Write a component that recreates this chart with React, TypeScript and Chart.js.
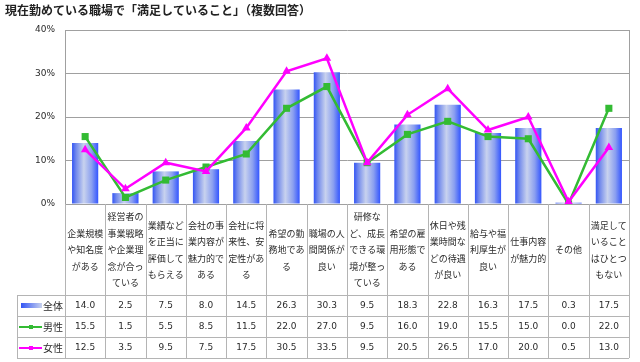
import React, { useEffect, useRef } from "react";
import { Chart, registerables } from "chart.js";

Chart.register(...registerables);

const title = "現在勤めている職場で「満足していること」（複数回答）";

const categories: string[][] = [
  ["企業規模", "や知名度", "がある"],
  ["経営者の", "事業戦略", "や企業理", "念が合っ", "ている"],
  ["業績など", "を正当に", "評価して", "もらえる"],
  ["会社の事", "業内容が", "魅力的で", "ある"],
  ["会社に将", "来性、安", "定性があ", "る"],
  ["希望の勤", "務地であ", "る"],
  ["職場の人", "間関係が", "良い"],
  ["研修な", "ど、成長", "できる環", "境が整っ", "ている"],
  ["希望の雇", "用形態で", "ある"],
  ["休日や残", "業時間な", "どの待遇", "が良い"],
  ["給与や福", "利厚生が", "良い"],
  ["仕事内容", "が魅力的"],
  ["その他"],
  ["満足して", "いること", "はひとつ", "もない"],
];

const seriesNames = ["全体", "男性", "女性"];
const totalValues = [14.0, 2.5, 7.5, 8.0, 14.5, 26.3, 30.3, 9.5, 18.3, 22.8, 16.3, 17.5, 0.3, 17.5];
const maleValues = [15.5, 1.5, 5.5, 8.5, 11.5, 22.0, 27.0, 9.5, 16.0, 19.0, 15.5, 15.0, 0.0, 22.0];
const femaleValues = [12.5, 3.5, 9.5, 7.5, 17.5, 30.5, 33.5, 9.5, 20.5, 26.5, 17.0, 20.0, 0.5, 13.0];
const yTicks = [0, 10, 20, 30, 40];

const GREEN = "#33bb33";
const MAGENTA = "#ff00ff";
const GRID = "#a0a0a0";
const TEXT = "#2a2a2a";
const CJK = '"Noto Sans CJK JP", sans-serif';
const NUM = '"DejaVu Sans", sans-serif';

const BAR_PCT = 0.65;

function barGradient(ctx: CanvasRenderingContext2D, x0: number, x1: number) {
  const g = ctx.createLinearGradient(x0, 0, x1, 0);
  g.addColorStop(0, "#3355f5");
  g.addColorStop(0.15, "#7088ec");
  g.addColorStop(0.45, "#c8d2ee");
  g.addColorStop(0.75, "#8a9ff0");
  g.addColorStop(1, "#3355ff");
  return g;
}

const tablePlugin = {
  id: "tablePlugin",
  afterDraw(chart: any) {
    const ctx: CanvasRenderingContext2D = chart.ctx;
    const ca = chart.chartArea;
    const xs = chart.scales.x;
    const n = categories.length;
    const colW = (ca.right - ca.left) / n;
    const headTop = ca.bottom;
    const rowTops = [295, 316, 337, 358];
    const legendLeft = 17;
    ctx.save();

    // title
    ctx.fillStyle = "#222";
    ctx.font = "bold 12px " + CJK;
    ctx.textAlign = "left";
    ctx.textBaseline = "middle";
    ctx.fillText(title, 5, 10);

    // plot right border
    ctx.strokeStyle = GRID;
    ctx.lineWidth = 1;
    ctx.beginPath();
    ctx.moveTo(Math.round(ca.right) + 0.5, ca.top);
    ctx.lineTo(Math.round(ca.right) + 0.5, rowTops[3]);
    ctx.stroke();

    // vertical column lines
    ctx.strokeStyle = "#b4b4b4";
    for (let i = 0; i <= n; i++) {
      const x = Math.round(xs.getPixelForValue(0) - colW / 2 + i * colW) + 0.5;
      ctx.beginPath();
      ctx.moveTo(x, headTop);
      ctx.lineTo(x, rowTops[3]);
      ctx.stroke();
    }
    // legend column left line
    ctx.beginPath();
    ctx.moveTo(legendLeft + 0.5, rowTops[0]);
    ctx.lineTo(legendLeft + 0.5, rowTops[3]);
    ctx.stroke();
    // horizontal row lines
    for (const y of rowTops) {
      ctx.beginPath();
      ctx.moveTo(legendLeft, y + 0.5);
      ctx.lineTo(ca.right, y + 0.5);
      ctx.stroke();
    }

    // category labels
    ctx.fillStyle = TEXT;
    ctx.font = "9px " + CJK;
    ctx.textAlign = "center";
    ctx.textBaseline = "middle";
    const headMid = (headTop + rowTops[0]) / 2 + 0.5;
    const lh = 16.5;
    categories.forEach((lines, i) => {
      const cx = xs.getPixelForValue(i);
      const start = headMid - ((lines.length - 1) * lh) / 2;
      lines.forEach((t, k) => ctx.fillText(t, cx, start + k * lh));
    });

    // values
    const rows = [totalValues, maleValues, femaleValues];
    ctx.font = "9px " + NUM;
    rows.forEach((vals, r) => {
      const cy = (rowTops[r] + rowTops[r + 1]) / 2 + 0.5;
      vals.forEach((v, i) => {
        ctx.fillText(v.toFixed(1), xs.getPixelForValue(i), cy);
      });
    });

    // legend column
    rows.forEach((_, r) => {
      const cy = (rowTops[r] + rowTops[r + 1]) / 2 + 0.5;
      if (r === 0) {
        const g = ctx.createLinearGradient(21, 0, 42, 0);
        g.addColorStop(0, "#3355f5");
        g.addColorStop(1, "#c8d2ee");
        ctx.fillStyle = g;
        ctx.fillRect(21, cy - 3, 21, 5);
      } else {
        const col = r === 1 ? GREEN : MAGENTA;
        ctx.strokeStyle = col;
        ctx.lineWidth = 2;
        ctx.beginPath();
        ctx.moveTo(19, cy);
        ctx.lineTo(42, cy);
        ctx.stroke();
        ctx.fillStyle = col;
        ctx.fillRect(29, cy - 2, 4, 4);
      }
      ctx.fillStyle = TEXT;
      ctx.font = "10px " + CJK;
      ctx.textAlign = "left";
      ctx.fillText(seriesNames[r], 43, cy);
      ctx.textAlign = "center";
    });

    ctx.restore();
  },
};

export default function App() {
  const ref = useRef<HTMLCanvasElement | null>(null);
  useEffect(() => {
    if (!ref.current) return;
    const chart = new Chart(ref.current, {
      type: "bar",
      data: {
        labels: categories.map((c) => c.join("")),
        datasets: [
          {
            type: "bar",
            label: seriesNames[0],
            data: totalValues,
            order: 3,
            barPercentage: BAR_PCT,
            categoryPercentage: 1,
            borderWidth: 0,
            backgroundColor: (c: any) => {
              const ch = c.chart;
              const ca = ch.chartArea;
              if (!ca || c.dataIndex === undefined) return "#3355ff";
              const cx = ch.scales.x.getPixelForValue(c.dataIndex);
              const w = ((ca.right - ca.left) / categories.length) * BAR_PCT;
              return barGradient(ch.ctx, cx - w / 2, cx + w / 2);
            },
          } as any,
          {
            type: "line",
            label: seriesNames[1],
            data: maleValues,
            order: 2,
            borderColor: GREEN,
            backgroundColor: GREEN,
            borderWidth: 2.5,
            tension: 0,
            pointStyle: "rect",
            pointRadius: 5,
            pointBorderWidth: 0,
          } as any,
          {
            type: "line",
            label: seriesNames[2],
            data: femaleValues,
            order: 1,
            borderColor: MAGENTA,
            backgroundColor: MAGENTA,
            borderWidth: 2.5,
            tension: 0,
            pointStyle: "triangle",
            pointRadius: 5,
            pointBorderWidth: 0,
          } as any,
        ],
      },
      options: {
        responsive: false,
        animation: false,
        layout: { padding: { left: 0, top: 30, right: 11, bottom: 158 } },
        plugins: { legend: { display: false }, tooltip: { enabled: false }, title: { display: false } },
        scales: {
          x: { display: false, offset: true, grid: { display: false } },
          y: {
            min: 0,
            max: 40,
            afterFit: (s: any) => {
              s.width = 65;
            },
            afterBuildTicks: (s: any) => {
              s.ticks = yTicks.map((v) => ({ value: v }));
            },
            ticks: {
              padding: 10,
              color: TEXT,
              font: { family: NUM, size: 9 },
              callback: (v: any) => v + "%",
            },
            grid: { color: GRID, lineWidth: 1, drawTicks: false },
            border: { display: true, color: GRID },
          },
        },
      },
      plugins: [tablePlugin],
    });
    return () => chart.destroy();
  }, []);
  return (
    <div style={{ position: "absolute", left: 0, top: 0, width: 640, height: 362, background: "#fff" }}>
      <canvas ref={ref} width={640} height={362} />
    </div>
  );
}
